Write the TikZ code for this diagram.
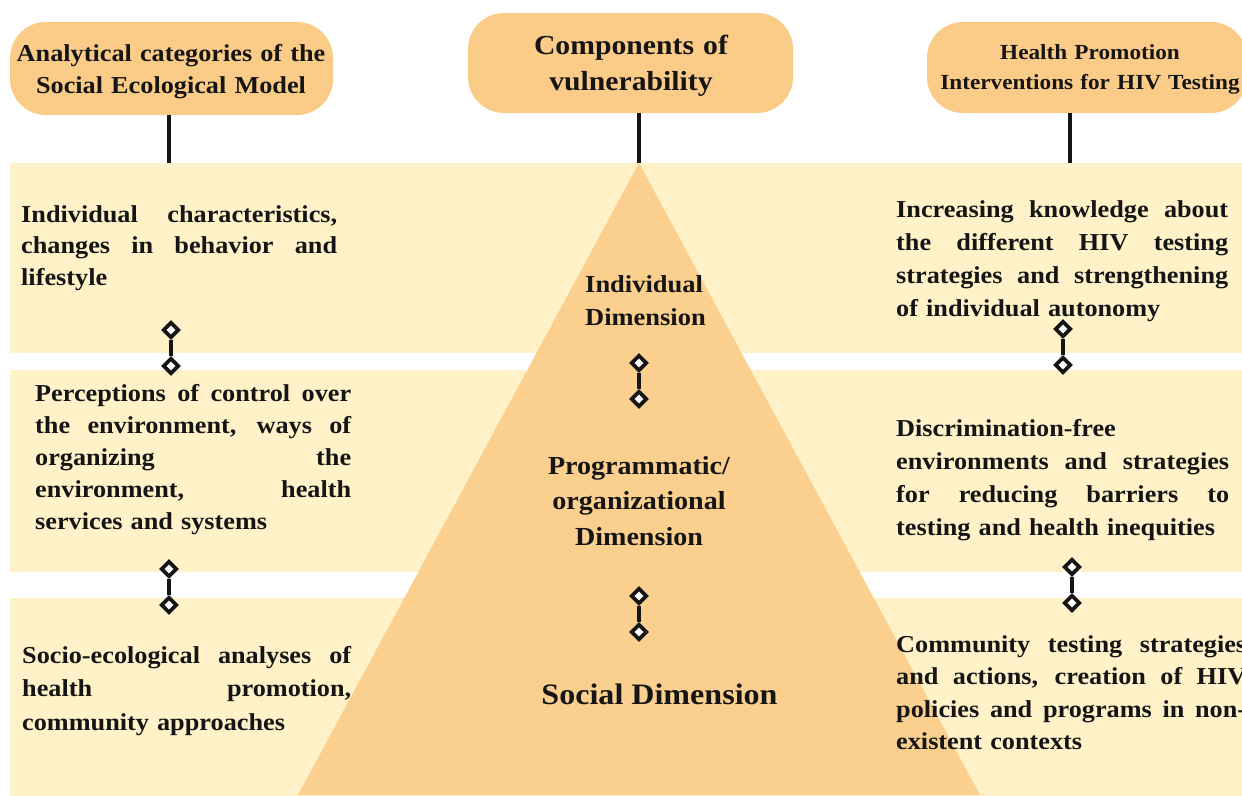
\documentclass[tikz,border=0pt]{standalone}
\usepackage{fontspec}
\usetikzlibrary{shapes.geometric}
\newfontfamily\gar{Liberation Serif}[FakeStretch=1.08]
\definecolor{bandc}{HTML}{FFF2C9}
\definecolor{tric}{HTML}{FBCF8E}
\definecolor{headc}{HTML}{FBCC88}
\definecolor{ink}{HTML}{151515}
% one fully justified line of a paragraph
\newcommand\jl[1]{\leavevmode\hbox to\hsize{\spaceskip=0.25em plus 1fil\relax #1}}
\newcommand\fsz[2]{\fontsize{#1}{#2}\selectfont}
\begin{document}
\begin{tikzpicture}[x=1pt,y=-1pt,
  band/.style={fill=bandc, draw=none},
  headbox/.style={fill=headc, draw=none, rounded corners=36pt, inner sep=0pt},
  headtext/.style={anchor=base, inner sep=0pt, align=center, text width=340pt, text=ink},
  stem/.style={draw=ink, line width=4pt},
  dia/.style={diamond, draw=ink, fill=white, line width=3.8pt, inner sep=0pt,
              minimum width=16pt, minimum height=16pt},
  link/.style={draw=ink, line width=4pt},
  body/.style={anchor=base west, inner sep=0pt, align=left, text=ink},
  label/.style={anchor=base, inner sep=0pt, align=center, text=ink}]
\useasboundingbox (0,0) rectangle (1242,795);
\clip (0,0) rectangle (1242,795);

% horizontal bands
\fill[band] (10,163) rectangle (1260,353);
\fill[band] (10,370) rectangle (1260,572);
\fill[band] (10,598) rectangle (1260,800);

% vulnerability pyramid
\coordinate (apex) at (639,163);
\coordinate (baseL) at (298,795);
\coordinate (baseR) at (980,795);
\fill[tric] (apex) -- (baseL) -- (baseR) -- cycle;

% column headers
\node[headbox, minimum width=323pt, minimum height=93pt] (hL) at (171.5,68.5) {};
\node[headbox, minimum width=325pt, minimum height=100pt] (hC) at (630.5,63) {};
\node[headbox, minimum width=320pt, minimum height=91pt] (hR) at (1087,67.5) {};

\node[headtext, font={\gar\bfseries\fsz{24.3}{31.6}}] (tL) at (171,61.7)
  {Analytical categories of the\\Social Ecological Model};
\node[headtext, font={\gar\bfseries\fsz{27.5}{36.7}}] (tC) at (631,54)
  {Components of\\vulnerability};
\node[headtext, font={\gar\bfseries\fsz{21.5}{30}}] (tR) at (1090,59.3)
  {Health Promotion\\Interventions for HIV Testing};

% stems from headers down to the bands
\coordinate (sL) at (169,163);
\coordinate (sR) at (1070,163);
\draw[stem] (sL |- hL.south) -- (sL);
\draw[stem] (apex |- hC.south) -- (apex);
\draw[stem] (sR |- hR.south) -- (sR);

% diamond-tipped links between levels
\node[dia] (l1a) at (171,330) {};
\node[dia] (l1b) at (171,366) {};
\draw[link] (l1a) -- (l1b);
\node[dia] (l2a) at (169,569) {};
\node[dia] (l2b) at (169,605) {};
\draw[link] (l2a) -- (l2b);

\node[dia] (c1a) at (639,363) {};
\node[dia] (c1b) at (639,399) {};
\draw[link] (c1a) -- (c1b);
\node[dia] (c2a) at (639,596) {};
\node[dia] (c2b) at (639,632) {};
\draw[link] (c2a) -- (c2b);

\node[dia] (r1a) at (1063,329) {};
\node[dia] (r1b) at (1063,365) {};
\draw[link] (r1a) -- (r1b);
\node[dia] (r2a) at (1072,567) {};
\node[dia] (r2b) at (1072,603) {};
\draw[link] (r2a) -- (r2b);

% left column
\node[body, text width=316pt, font={\gar\bfseries\fsz{24.3}{31.5}}] (pL1) at (21,222)
  {\jl{Individual characteristics,}\\\jl{changes in behavior and}\\lifestyle};
\node[body, text width=316pt, font={\gar\bfseries\fsz{24.3}{32}}] (pL2) at (35,401)
  {\jl{Perceptions of control over}\\\jl{the environment, ways of}\\\jl{organizing the}\\\jl{environment, health}\\services and systems};
\node[body, text width=329pt, font={\gar\bfseries\fsz{24.3}{33.5}}] (pL3) at (22,663)
  {\jl{Socio-ecological analyses of}\\\jl{health promotion,}\\community approaches};

% pyramid levels
\node[body, text width=150pt, font={\gar\bfseries\fsz{24.5}{32.5}}] (cInd) at (585,292.5)
  {Individual\\Dimension};
\node[label, text width=220pt, font={\gar\bfseries\fsz{26}{35.5}}] (cProg) at (639,474)
  {Programmatic/\\organizational\\Dimension};
\node[label, font={\gar\bfseries\fsz{29.7}{36}}] (cSoc) at (659.5,704.7) {Social Dimension};

% right column
\node[body, text width=332pt, font={\gar\bfseries\fsz{24.3}{33}}] (pR1) at (896,217)
  {\jl{Increasing knowledge about}\\\jl{the different HIV testing}\\\jl{strategies and strengthening}\\of individual autonomy};
\node[body, text width=333pt, font={\gar\bfseries\fsz{24.3}{33}}] (pR2) at (896,436)
  {Discrimination-free\\\jl{environments and strategies}\\\jl{for reducing barriers to}\\testing and health inequities};
\node[body, text width=350pt, font={\gar\bfseries\fsz{24.3}{32.5}}] (pR3) at (896,652)
  {\jl{Community testing strategies}\\\jl{and actions, creation of HIV}\\\jl{policies and programs in non-}\\existent contexts};
\end{tikzpicture}
\end{document}
